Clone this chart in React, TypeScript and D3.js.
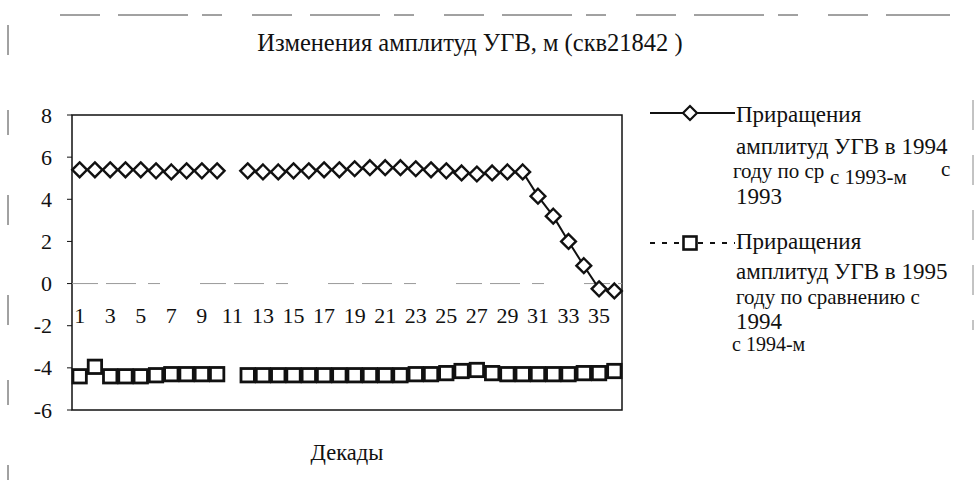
import * as d3 from 'd3';

// decades 1..36
const decades = d3.range(1, 37);
// 1994 vs 1993 increments (decade 11 missing)
const inc1994 = [
  5.4, 5.4, 5.4, 5.4, 5.4, 5.35, 5.3, 5.35, 5.35, 5.35,
  null, 5.35, 5.3, 5.3, 5.35, 5.35, 5.4, 5.4, 5.45, 5.5,
  5.5, 5.5, 5.45, 5.4, 5.35, 5.25, 5.2, 5.25, 5.3, 5.3,
  4.15, 3.2, 2.0, 0.85, -0.25, -0.35,
];
// 1995 vs 1994 increments
const inc1995 = [
  -4.4, -3.95, -4.4, -4.4, -4.4, -4.35, -4.3, -4.3, -4.3, -4.3,
  null, -4.35, -4.35, -4.35, -4.35, -4.35, -4.35, -4.35, -4.35, -4.35,
  -4.35, -4.35, -4.3, -4.3, -4.25, -4.15, -4.1, -4.25, -4.3, -4.3,
  -4.3, -4.3, -4.3, -4.25, -4.25, -4.15,
];
const yTicks = [8, 6, 4, 2, 0, -2, -4, -6];
const xLabels = decades.filter((d) => d % 2 === 1);

const font = 'Liberation Serif';

export default function App() {
  const width = 975;
  const height = 489;
  const left = 72, right = 622, top = 115, bottom = 410;

  const x = d3.scaleBand<number>().domain(decades).range([left, right]);
  const cx = (d: number) => (x(d) as number) + x.bandwidth() / 2;
  const y = d3.scaleLinear().domain([-6, 8]).range([bottom, top]);

  const line = d3
    .line<number | null>()
    .defined((v) => v !== null)
    .x((_, i) => cx(decades[i]))
    .y((v) => y(v as number));

  const diamond = (px: number, py: number, r: number) =>
    `M${px},${py - r}L${px + r},${py}L${px},${py + r}L${px - r},${py}Z`;

  const legendText1 = [
    { t: 'Приращения', y: 122, s: 23 },
    { t: 'амплитуд УГВ в 1994', y: 154, s: 23 },
  ];
  const legendText2 = [
    { t: 'Приращения', y: 249, s: 23 },
    { t: 'амплитуд УГВ в 1995', y: 279, s: 23 },
    { t: 'году по сравнению с', y: 304, s: 21 },
    { t: '1994', y: 329, s: 23 },
  ];

  return (
    <svg width={width} height={height} fontFamily={font} style={{ position: 'absolute', left: 0, top: 0, background: '#fff' }}>
      {/* scan frame remnants */}
      <line x1={60} x2={950} y1={15} y2={15} stroke="#444" strokeWidth={1} strokeDasharray="40 18 70 14 20 30" />
      <line x1={8} x2={8} y1={25} y2={480} stroke="#444" strokeWidth={1} strokeDasharray="30 55 25 60 30 70" />
      <line x1={973} x2={973} y1={100} y2={330} stroke="#888" strokeWidth={1} strokeDasharray="30 25" />

      <text x={470} y={51} textAnchor="middle" fontSize={24.5} fill="#111">
        Изменения амплитуд УГВ, м (скв21842 )
      </text>

      {/* plot frame */}
      <rect x={left} y={top} width={right - left} height={bottom - top} fill="none" stroke="#111" strokeWidth={1.5} />

      {/* zero axis */}
      <line x1={left} x2={right} y1={y(0)} y2={y(0)} stroke="#999" strokeWidth={1} strokeDasharray="26 8 30 12 12 40" />

      {/* y axis */}
      {yTicks.map((t) => (
        <g key={t}>
          <line x1={left - 5} x2={left} y1={y(t)} y2={y(t)} stroke="#111" strokeWidth={1} />
          <text x={52} y={y(t) + 7.5} textAnchor="end" fontSize={22} fill="#111">
            {t}
          </text>
        </g>
      ))}

      {/* x labels */}
      {xLabels.map((d) => (
        <text key={d} x={cx(d)} y={323} textAnchor="middle" fontSize={22} fill="#111">
          {d}
        </text>
      ))}

      <text x={347} y={460} textAnchor="middle" fontSize={22.5} fill="#111">
        Декады
      </text>

      {/* series 1995 */}
      <path d={line(inc1995) || ''} fill="none" stroke="#111" strokeWidth={2} strokeDasharray="4 4" />
      {inc1995.map((v, i) =>
        v === null ? null : (
          <rect key={i} x={cx(decades[i]) - 6.7} y={y(v) - 6.7} width={13.4} height={13.4} fill="#fff" stroke="#111" strokeWidth={2.8} />
        )
      )}

      {/* series 1994 */}
      <path d={line(inc1994) || ''} fill="none" stroke="#111" strokeWidth={2} />
      {inc1994.map((v, i) =>
        v === null ? null : (
          <path key={i} d={diamond(cx(decades[i]), y(v), 7.4)} fill="#fff" stroke="#111" strokeWidth={2.4} />
        )
      )}

      {/* legend 1 */}
      <line x1={650} x2={735} y1={113} y2={113} stroke="#111" strokeWidth={2} />
      <path d={diamond(690, 113, 7)} fill="#fff" stroke="#111" strokeWidth={2.2} />
      {legendText1.map((l) => (
        <text key={l.t} x={736} y={l.y} fontSize={l.s} fill="#111">
          {l.t}
        </text>
      ))}
      <text x={733} y={178} fontSize={21} fill="#111">году по ср</text>
      <text x={830} y={184} fontSize={21} fill="#111">с 1993-м</text>
      <text x={941} y={176} fontSize={21} fill="#111">с</text>
      <text x={736} y={204} fontSize={23} fill="#111">1993</text>

      {/* legend 2 */}
      <line x1={650} x2={735} y1={243} y2={243} stroke="#111" strokeWidth={2} strokeDasharray="5 7" />
      <rect x={683.5} y={236.5} width={13} height={13} fill="#fff" stroke="#111" strokeWidth={2.6} />
      {legendText2.map((l) => (
        <text key={l.t} x={736} y={l.y} fontSize={l.s} fill="#111">
          {l.t}
        </text>
      ))}
      <text x={732} y={351} fontSize={20} fill="#111">с 1994-м</text>
    </svg>
  );
}
